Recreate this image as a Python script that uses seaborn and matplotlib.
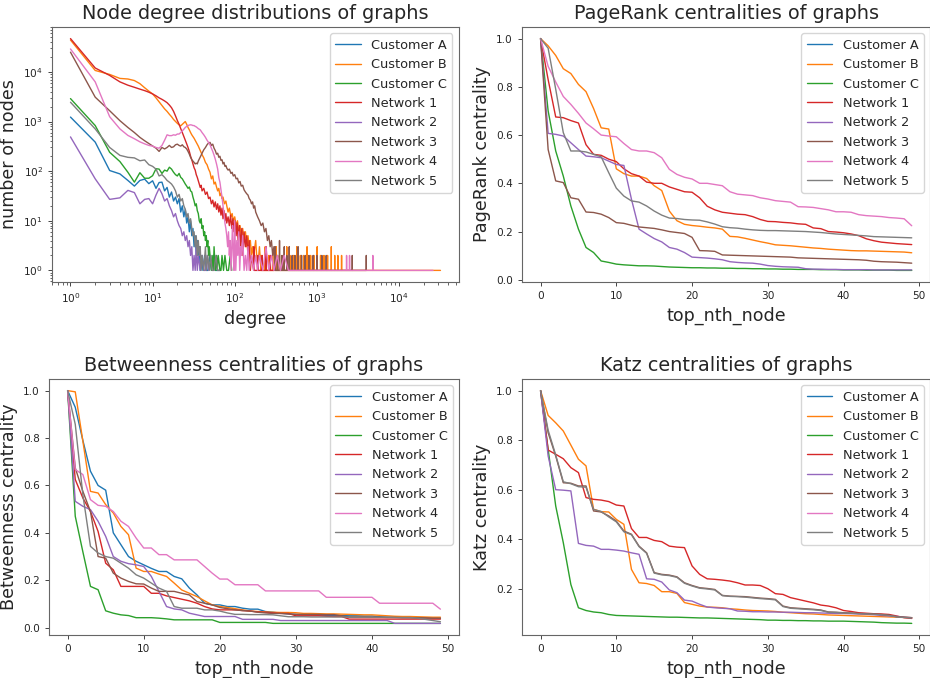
import numpy as np
import pandas as pd
import matplotlib
matplotlib.use("Agg")
import matplotlib.pyplot as plt
import seaborn as sns

# graph names (legend order)
names = ["Customer A", "Customer B", "Customer C", "Network 1",
         "Network 2", "Network 3", "Network 4", "Network 5"]

#! NODE DEGREE DISTRIBUTIONS (degree -> number of nodes)
deg_cust_a = [1, 2, 3, 4, 5, 6, 7, 8, 9, 10, 11, 12, 13, 14, 15, 16, 17, 18, 19, 20, 21, 22, 23, 24, 25,
              26, 27, 28, 29, 30, 31, 32, 33, 34, 35, 36, 37, 38, 40, 41, 43, 45, 47, 50, 52, 55, 58, 62, 66]
cnt_cust_a = [1230, 385, 103, 88, 65, 50, 65, 69, 56, 64, 45, 59, 60, 40, 47, 30, 38, 25, 30, 22, 28, 15, 20, 12, 17,
              9, 12, 6, 10, 5, 7, 3, 5, 2, 4, 2, 3, 1, 2, 1, 2, 1, 1, 2, 1, 2, 1, 1, 1]

deg_cust_b = [1, 2, 3, 4, 5, 6, 7, 8, 9, 10, 11, 12, 13, 14, 15, 16, 17, 18, 19, 20, 21, 22, 23, 24, 25, 26, 27, 28, 29, 30,
              32, 34, 36, 38, 40, 42, 44, 46, 48, 50, 52, 54, 56, 58, 60, 62, 64, 66, 68, 70, 72, 75, 78, 80, 83, 86, 90,
              93, 96, 100, 104, 108, 112, 116, 120, 125, 130, 135, 140, 145, 150, 155, 160, 165, 170, 180, 190, 200,
              209, 210, 211, 234, 235, 236, 259, 260, 261, 289, 290, 291, 319, 320, 321, 349, 350, 351, 389, 390, 391,
              429, 430, 431, 469, 470, 471, 519, 520, 521, 569, 570, 571, 629, 630, 631, 689, 690, 691, 759, 760, 761,
              839, 840, 841, 919, 920, 921, 1009, 1010, 1011, 1109, 1110, 1111, 1219, 1220, 1221, 1349, 1350, 1351,
              1499, 1500, 1501, 1649, 1650, 1651, 1799, 1800, 1801, 1999, 2000, 2001, 32000]
cnt_cust_b = [44000, 10700, 8900, 7400, 7200, 6700, 5800, 4800, 4100, 3600, 3000, 2500, 2100, 1800, 1600, 1400, 1250,
              1100, 1000, 920, 860, 820, 880, 940, 1000, 880, 760, 680, 600, 540,
              460, 380, 320, 260, 215, 185, 150, 135, 110, 95, 70, 80, 55, 60, 48, 40, 45, 32, 36, 28, 30, 22, 25, 20,
              15, 18, 12, 14, 10, 12, 8, 10, 6, 8, 5, 7, 4, 6, 3, 5, 3, 4, 2, 3, 2, 4, 1, 3,
              1, 2, 1, 1, 3, 1, 1, 2, 1, 1, 2, 1, 1, 3, 1, 1, 2, 1, 1, 2, 1, 1, 3, 1, 1, 2, 1, 1, 2, 1, 1, 3, 1,
              1, 2, 1, 1, 2, 1, 1, 3, 1, 1, 2, 1, 1, 2, 1, 1, 3, 1, 1, 2, 1, 1, 2, 1, 1, 2, 1, 1, 3, 1, 1, 2, 1,
              1, 2, 1, 1, 2, 1, 1]

deg_cust_c = [1, 2, 3, 4, 5, 6, 7, 8, 9, 10, 11, 12, 13, 14, 15, 16, 17, 18, 19, 20, 21, 22, 23, 24, 25,
              26, 27, 28, 29, 30, 31, 32, 33, 34, 35, 36, 37, 38, 39, 40, 41, 42, 43, 44, 45, 46, 47, 48, 49, 50,
              52, 53, 55, 56, 58, 60, 61, 63, 66, 68, 70, 73, 76, 80, 84, 88, 92]
cnt_cust_c = [2900, 830, 240, 156, 95, 60, 93, 72, 72, 81, 112, 110, 90, 105, 100, 120, 110, 95, 85, 80, 90, 75, 70,
              62, 55, 50, 45, 48, 40, 38, 30, 25, 20, 22, 16, 14, 10, 9, 11, 7, 8, 5, 6, 4, 5, 3, 4, 2, 3, 2,
              1, 2, 1, 3, 1, 2, 1, 2, 1, 1, 2, 1, 2, 1, 1, 2, 1]

deg_net_1 = [1, 2, 3, 4, 5, 6, 7, 8, 9, 10, 11, 12, 13, 14, 15, 16, 17, 18, 19, 20, 21, 22, 23, 24, 25, 26, 27, 28,
             29, 30, 31, 32, 33, 34, 35, 36, 37, 38, 39, 40,
             42, 44, 46, 48, 50, 52, 54, 56, 58, 60, 62, 64, 66, 68, 70, 72, 74, 76, 78, 80, 83, 86, 89, 92, 95, 98,
             101, 104, 107, 110, 114, 118, 122, 126, 130, 135, 140, 145, 150, 155, 160,
             170, 171, 172, 190, 191, 192, 215, 216, 217, 240, 241, 242, 270, 271, 272, 300]
cnt_net_1 = [47000, 12000, 8500, 6300, 5400, 4900, 4500, 4200, 3900, 3600, 3300, 3000, 2800, 2600, 2400, 2150, 1900,
             1600, 1300, 1050, 880, 720, 600, 500, 420, 355, 300, 250, 200, 170, 140, 117, 105, 85, 75, 64, 55, 47,
             52, 40,
             45, 34, 38, 28, 30, 22, 26, 19, 24, 17, 22, 15, 20, 13, 18, 11, 16, 10, 14, 9, 12, 8, 13, 7, 11, 6,
             10, 5, 9, 4, 8, 3, 7, 2, 6, 3, 5, 2, 4, 1, 2,
             1, 3, 1, 1, 2, 1, 1, 2, 1, 1, 3, 1, 1, 2, 1, 1]

deg_net_2 = [1, 2, 3, 4, 5, 6, 7, 8, 9, 10, 11, 12, 13, 14, 15, 16, 17, 18, 19, 20, 21, 22, 23, 24, 25, 26, 27, 28,
             29, 30, 31, 32, 33, 34, 35, 36, 38, 40, 42, 44, 46, 48]
cnt_net_2 = [490, 70, 27, 29, 41, 37, 22, 27, 28, 22, 33, 45, 35, 25, 28, 20, 16, 12, 14, 10, 8, 7, 5, 6, 4, 5, 3,
             4, 2, 3, 1, 2, 1, 3, 1, 2, 1, 2, 1, 1, 2, 1]

deg_net_3 = [1, 2, 3, 4, 5, 6, 7, 8, 9, 10, 11, 12, 13, 14, 15, 16, 17, 18, 19, 20, 21, 22, 23, 24, 25, 26, 27, 28,
             29, 30, 31, 32, 33, 34, 35, 36, 37, 38, 39, 40,
             42, 44, 46, 48, 50, 52, 54, 56, 58, 60, 62, 64, 66, 68, 70, 72, 74, 76, 78, 80, 83, 86, 90, 93, 96, 100,
             104, 108, 112, 116, 120, 125, 130, 135, 140, 145, 150, 155, 160, 165, 170, 175, 180, 190, 200, 210, 220,
             230, 240, 250, 260, 270, 280, 290, 300,
             310, 311, 312, 330, 331, 332, 350, 351, 352, 375, 376, 377, 400, 401, 402, 430, 431, 432, 460, 461, 462,
             500, 501, 502, 540, 541, 542, 590, 591, 592, 650, 651, 652, 720, 721, 722, 800, 801, 802, 900, 901, 902,
             1000, 1001, 1002, 1150, 1151, 1152, 1300, 1301, 1302, 2700, 2701, 2702, 4000, 4001, 4002]
cnt_net_3 = [25000, 3100, 1650, 1040, 760, 600, 480, 410, 360, 320, 290, 250, 300, 280, 300, 330, 300, 310, 340, 350,
             330, 320, 340, 310, 300, 280, 250, 220, 190, 170, 160, 150, 140, 145, 140, 160, 175, 190, 210, 230,
             270, 300, 340, 370, 380, 330, 350, 290, 260, 220, 230, 190, 200, 165, 170, 140, 150, 125, 130, 115,
             105, 110, 90, 95, 80, 85, 70, 72, 58, 62, 50, 52, 42, 38, 35, 33, 28, 26, 22, 24, 18, 20, 15, 12,
             10, 8, 9, 6, 7, 4, 5, 3, 4, 2, 3,
             1, 3, 1, 1, 2, 1, 1, 4, 1, 1, 2, 1, 1, 3, 1, 1, 2, 1, 1, 3, 1, 1, 2, 1, 1, 2, 1, 1, 3, 1, 1, 2, 1,
             1, 2, 1, 1, 2, 1, 1, 2, 1, 1, 2, 1, 1, 2, 1, 1, 2, 1, 1, 2, 1, 1, 2, 1]

deg_net_4 = [1, 2, 3, 4, 5, 6, 7, 8, 9, 10, 11, 12, 13, 14, 15, 16, 17, 18, 19, 20, 21, 22, 23, 24, 25, 26, 27, 28,
             29, 30, 31, 32, 33, 34, 35, 36, 37, 38, 39, 40,
             42, 44, 46, 48, 50, 52, 54, 56, 58, 60, 62, 64, 66, 68, 70, 72, 74, 76, 78, 80, 82, 84, 86, 88, 90, 92,
             94, 96, 98, 100, 103, 106, 109, 112, 115, 118, 121, 125, 130, 135, 140, 145, 150, 160, 170, 180, 190,
             200, 220, 240, 260, 280, 300, 330, 360, 400, 450,
             2300, 2301, 2302, 2500, 2501, 2502, 4800, 4801, 4802, 26000]
cnt_net_4 = [29000, 6300, 1250, 710, 525, 450, 390, 355, 330, 320, 300, 290, 330, 420, 540, 520, 520, 540, 530, 560,
             560, 600, 650, 700, 760, 800, 830, 850, 860, 850, 830, 830, 800, 780, 750, 720, 700, 680, 640, 600,
             540, 480, 420, 380, 340, 290, 250, 210, 174, 140, 110, 74, 60, 42, 30, 20, 14, 9, 7, 5,
             3, 6, 2, 4, 1, 3, 8, 2, 1, 10, 1, 4, 2, 6, 1, 3, 2, 5, 1, 2,
             1, 3, 1, 2, 1, 2, 1, 2, 1, 3, 1, 2, 1, 2, 1, 2, 1,
             1, 2, 1, 1, 2, 1, 1, 2, 1, 1]

deg_net_5 = [1, 2, 3, 4, 5, 6, 7, 8, 9, 10, 11, 12, 13, 14, 15, 16, 17, 18, 19, 20, 21, 22, 23, 24, 25, 26, 27, 28,
             29, 30, 31, 32, 33, 34, 35, 36, 37, 38, 39, 40, 42, 44, 45, 47, 49, 51, 53, 56, 59, 62, 65]
cnt_net_5 = [2450, 710, 300, 208, 190, 185, 162, 168, 135, 125, 110, 80, 85, 75, 65, 60, 55, 48, 40, 30,
             34, 25, 28, 20, 17, 12, 14, 9, 11, 7, 5, 6, 3, 5, 2, 4, 2, 3, 1, 2, 1, 3, 1, 2, 1, 2, 1, 1, 2, 1, 1]

degree_data = {
    "Customer A": (deg_cust_a, cnt_cust_a), "Customer B": (deg_cust_b, cnt_cust_b),
    "Customer C": (deg_cust_c, cnt_cust_c), "Network 1": (deg_net_1, cnt_net_1),
    "Network 2": (deg_net_2, cnt_net_2), "Network 3": (deg_net_3, cnt_net_3),
    "Network 4": (deg_net_4, cnt_net_4), "Network 5": (deg_net_5, cnt_net_5),
}

#! CENTRALITIES OF THE TOP 50 NODES (normalised). None = line not visible in the chart
top_nth_node = list(range(50))

pr_cust_a = None
pr_cust_b = [1.0, 0.97, 0.93, 0.875, 0.855, 0.81, 0.78, 0.71, 0.63, 0.625, 0.46, 0.44, 0.43, 0.43, 0.42, 0.39, 0.37,
             0.285, 0.245, 0.23, 0.225, 0.222, 0.218, 0.215, 0.21, 0.18, 0.178, 0.172, 0.165, 0.158, 0.152, 0.145,
             0.143, 0.141, 0.138, 0.135, 0.132, 0.13, 0.127, 0.125, 0.123, 0.121, 0.12, 0.12, 0.119, 0.118, 0.117,
             0.116, 0.115, 0.112]
pr_cust_c = [1.0, 0.70, 0.534, 0.43, 0.306, 0.21, 0.134, 0.113, 0.078, 0.072, 0.065, 0.062, 0.06, 0.058, 0.058,
             0.057, 0.055, 0.053, 0.052, 0.051, 0.05, 0.05, 0.049, 0.049, 0.048, 0.048, 0.047, 0.047, 0.046, 0.046,
             0.045, 0.045, 0.044, 0.044, 0.043, 0.043, 0.043, 0.042, 0.042, 0.042, 0.041, 0.041, 0.041, 0.04, 0.04,
             0.04, 0.04, 0.039, 0.039, 0.039]
pr_net_1 = [1.0, 0.83, 0.675, 0.672, 0.66, 0.65, 0.56, 0.52, 0.516, 0.50, 0.49, 0.46, 0.44, 0.43, 0.405, 0.40, 0.40,
            0.385, 0.375, 0.365, 0.363, 0.34, 0.305, 0.29, 0.28, 0.276, 0.272, 0.27, 0.262, 0.25, 0.242, 0.241,
            0.238, 0.236, 0.232, 0.23, 0.215, 0.212, 0.2, 0.198, 0.195, 0.19, 0.183, 0.17, 0.162, 0.156, 0.153,
            0.15, 0.148, 0.146]
pr_net_2 = [1.0, 0.607, 0.603, 0.596, 0.568, 0.54, 0.513, 0.51, 0.506, 0.492, 0.478, 0.474, 0.334, 0.21, 0.19,
            0.171, 0.157, 0.134, 0.127, 0.113, 0.094, 0.092, 0.09, 0.087, 0.083, 0.075, 0.072, 0.07, 0.069, 0.065,
            0.059, 0.056, 0.054, 0.053, 0.052, 0.046, 0.044, 0.044, 0.043, 0.043, 0.042, 0.042, 0.042, 0.042, 0.041,
            0.041, 0.041, 0.041, 0.041, 0.041]
pr_net_3 = [1.0, 0.54, 0.41, 0.403, 0.34, 0.334, 0.281, 0.279, 0.272, 0.258, 0.237, 0.234, 0.226, 0.219, 0.216,
            0.213, 0.207, 0.2, 0.196, 0.192, 0.176, 0.121, 0.12, 0.118, 0.103, 0.102, 0.101, 0.1, 0.099, 0.098,
            0.097, 0.096, 0.095, 0.094, 0.091, 0.09, 0.089, 0.088, 0.087, 0.086, 0.085, 0.084, 0.083, 0.081, 0.077,
            0.075, 0.074, 0.073, 0.071, 0.069]
pr_net_4 = [1.0, 0.885, 0.82, 0.76, 0.727, 0.69, 0.65, 0.626, 0.60, 0.596, 0.593, 0.565, 0.54, 0.534, 0.534, 0.527,
            0.506, 0.458, 0.437, 0.425, 0.418, 0.40, 0.40, 0.395, 0.39, 0.365, 0.355, 0.352, 0.349, 0.34, 0.335,
            0.328, 0.325, 0.322, 0.303, 0.302, 0.3, 0.295, 0.29, 0.282, 0.282, 0.28, 0.27, 0.266, 0.264, 0.262,
            0.258, 0.256, 0.253, 0.224]
pr_net_5 = [1.0, 0.96, 0.79, 0.61, 0.534, 0.534, 0.53, 0.52, 0.51, 0.444, 0.38, 0.347, 0.327, 0.322, 0.306, 0.285,
            0.268, 0.256, 0.254, 0.25, 0.248, 0.247, 0.24, 0.231, 0.22, 0.216, 0.214, 0.21, 0.207, 0.205, 0.204,
            0.204, 0.203, 0.202, 0.201, 0.2, 0.198, 0.196, 0.193, 0.19, 0.188, 0.186, 0.184, 0.182, 0.179, 0.178,
            0.177, 0.176, 0.175, 0.174]

bc_cust_a = [1.0, 0.93, 0.79, 0.66, 0.60, 0.58, 0.40, 0.35, 0.30, 0.28, 0.265, 0.25, 0.237, 0.237, 0.216, 0.206,
             0.167, 0.138, 0.103, 0.096, 0.096, 0.089, 0.089, 0.082, 0.078, 0.078, 0.068, 0.065, 0.061, 0.058, 0.056,
             0.055, 0.054, 0.053, 0.052, 0.052, 0.051, 0.05, 0.05, 0.049, 0.049, 0.046, 0.044, 0.044, 0.043, 0.043,
             0.042, 0.042, 0.041, 0.04]
bc_cust_b = [1.0, 0.995, 0.787, 0.575, 0.568, 0.519, 0.484, 0.427, 0.392, 0.251, 0.237, 0.237, 0.226, 0.216, 0.188,
             0.159, 0.145, 0.131, 0.113, 0.096, 0.089, 0.085, 0.08, 0.075, 0.07, 0.068, 0.066, 0.065, 0.064, 0.064,
             0.063, 0.06, 0.06, 0.059, 0.058, 0.058, 0.057, 0.056, 0.055, 0.054, 0.054, 0.052, 0.05, 0.048, 0.047,
             0.047, 0.046, 0.045, 0.044, 0.044]
bc_cust_c = [1.0, 0.47, 0.32, 0.174, 0.16, 0.071, 0.061, 0.054, 0.051, 0.042, 0.042, 0.042, 0.04, 0.037, 0.033,
             0.033, 0.033, 0.033, 0.033, 0.033, 0.022, 0.022, 0.022, 0.022, 0.022, 0.022, 0.022, 0.018, 0.018, 0.018,
             0.018, 0.018, 0.018, 0.018, 0.018, 0.018, 0.018, 0.018, 0.018, 0.018, 0.018, 0.018, 0.018, 0.018, 0.018,
             0.018, 0.018, 0.018, 0.018, 0.018]
bc_net_1 = [1.0, 0.625, 0.547, 0.49, 0.406, 0.272, 0.244, 0.174, 0.174, 0.174, 0.174, 0.145, 0.145, 0.134, 0.127,
            0.12, 0.113, 0.103, 0.089, 0.079, 0.075, 0.075, 0.075, 0.072, 0.07, 0.066, 0.065, 0.062, 0.06, 0.06,
            0.05, 0.05, 0.05, 0.05, 0.048, 0.047, 0.047, 0.036, 0.036, 0.036, 0.036, 0.036, 0.036, 0.036, 0.036,
            0.036, 0.036, 0.036, 0.036, 0.036]
bc_net_2 = [1.0, 0.533, 0.512, 0.498, 0.449, 0.385, 0.30, 0.28, 0.27, 0.265, 0.258, 0.216, 0.153, 0.089, 0.079,
            0.075, 0.061, 0.054, 0.047, 0.047, 0.047, 0.047, 0.047, 0.035, 0.035, 0.035, 0.035, 0.035, 0.03, 0.03,
            0.03, 0.03, 0.03, 0.03, 0.03, 0.03, 0.03, 0.03, 0.03, 0.03, 0.03, 0.03, 0.03, 0.018, 0.018, 0.018,
            0.018, 0.018, 0.018, 0.018]
bc_net_3 = [1.0, 0.674, 0.575, 0.49, 0.30, 0.293, 0.23, 0.209, 0.195, 0.185, 0.184, 0.167, 0.153, 0.153, 0.153,
            0.145, 0.138, 0.11, 0.103, 0.096, 0.085, 0.08, 0.075, 0.072, 0.07, 0.065, 0.062, 0.06, 0.06, 0.058,
            0.056, 0.056, 0.056, 0.056, 0.055, 0.055, 0.05, 0.045, 0.045, 0.045, 0.044, 0.044, 0.043, 0.043, 0.042,
            0.042, 0.041, 0.041, 0.04, 0.04]
bc_net_4 = [1.0, 0.667, 0.646, 0.54, 0.516, 0.512, 0.49, 0.449, 0.427, 0.378, 0.336, 0.336, 0.308, 0.308, 0.286,
            0.286, 0.286, 0.286, 0.258, 0.23, 0.205, 0.205, 0.181, 0.181, 0.181, 0.181, 0.155, 0.155, 0.155, 0.155,
            0.155, 0.155, 0.155, 0.155, 0.128, 0.128, 0.128, 0.128, 0.128, 0.128, 0.128, 0.103, 0.103, 0.103, 0.103,
            0.103, 0.103, 0.103, 0.103, 0.078]
bc_net_5 = [1.0, 0.858, 0.56, 0.343, 0.315, 0.30, 0.293, 0.272, 0.251, 0.223, 0.209, 0.188, 0.167, 0.153, 0.089,
            0.082, 0.082, 0.082, 0.075, 0.075, 0.07, 0.062, 0.056, 0.056, 0.055, 0.055, 0.055, 0.054, 0.05, 0.046,
            0.046, 0.046, 0.045, 0.045, 0.045, 0.045, 0.045, 0.044, 0.044, 0.044, 0.044, 0.044, 0.044, 0.043, 0.043,
            0.043, 0.04, 0.035, 0.03, 0.025]

kz_cust_a = None
kz_cust_b = [1.0, 0.90, 0.87, 0.837, 0.78, 0.723, 0.696, 0.521, 0.511, 0.51, 0.48, 0.46, 0.278, 0.224, 0.221, 0.213,
             0.188, 0.188, 0.181, 0.144, 0.137, 0.13, 0.126, 0.125, 0.123, 0.119, 0.117, 0.114, 0.112, 0.111, 0.11,
             0.108, 0.105, 0.103, 0.101, 0.099, 0.098, 0.096, 0.094, 0.093, 0.092, 0.091, 0.09, 0.089, 0.088, 0.087,
             0.086, 0.085, 0.084, 0.083]
kz_cust_c = [1.0, 0.763, 0.534, 0.386, 0.217, 0.123, 0.112, 0.106, 0.103, 0.096, 0.092, 0.091, 0.09, 0.089, 0.088,
             0.087, 0.086, 0.085, 0.085, 0.084, 0.083, 0.082, 0.082, 0.081, 0.08, 0.079, 0.078, 0.077, 0.076, 0.075,
             0.073, 0.073, 0.072, 0.072, 0.071, 0.071, 0.07, 0.07, 0.069, 0.069, 0.069, 0.068, 0.067, 0.066, 0.065,
             0.063, 0.062, 0.061, 0.061, 0.06]
kz_net_1 = [1.0, 0.76, 0.743, 0.725, 0.689, 0.669, 0.568, 0.561, 0.558, 0.552, 0.538, 0.534, 0.443, 0.407, 0.407,
            0.395, 0.39, 0.372, 0.368, 0.366, 0.292, 0.258, 0.24, 0.238, 0.235, 0.231, 0.224, 0.215, 0.215, 0.213,
            0.2, 0.18, 0.177, 0.164, 0.157, 0.15, 0.143, 0.134, 0.13, 0.123, 0.112, 0.108, 0.103, 0.101, 0.099,
            0.098, 0.096, 0.09, 0.083, 0.08]
kz_net_2 = [1.0, 0.736, 0.60, 0.598, 0.595, 0.383, 0.375, 0.372, 0.359, 0.359, 0.356, 0.352, 0.345, 0.339, 0.24,
            0.238, 0.227, 0.195, 0.184, 0.154, 0.15, 0.137, 0.126, 0.123, 0.121, 0.119, 0.11, 0.109, 0.107, 0.107,
            0.106, 0.106, 0.105, 0.105, 0.104, 0.103, 0.103, 0.102, 0.101, 0.1, 0.1, 0.099, 0.098, 0.097, 0.095,
            0.092, 0.09, 0.088, 0.085, 0.083]
kz_net_3 = [1.0, 0.83, 0.736, 0.628, 0.626, 0.615, 0.615, 0.514, 0.51, 0.494, 0.473, 0.433, 0.42, 0.372, 0.345,
            0.265, 0.258, 0.255, 0.248, 0.224, 0.213, 0.204, 0.201, 0.197, 0.173, 0.17, 0.169, 0.168, 0.165, 0.162,
            0.16, 0.157, 0.13, 0.123, 0.121, 0.119, 0.117, 0.114, 0.106, 0.105, 0.103, 0.102, 0.1, 0.099, 0.098,
            0.096, 0.093, 0.087, 0.085, 0.083]
kz_net_4 = None
kz_net_5 = [1.0, 0.84, 0.74, 0.632, 0.624, 0.612, 0.61, 0.52, 0.512, 0.49, 0.47, 0.43, 0.418, 0.37, 0.343, 0.263,
            0.256, 0.253, 0.246, 0.222, 0.211, 0.202, 0.199, 0.195, 0.172, 0.169, 0.168, 0.166, 0.163, 0.16, 0.158,
            0.155, 0.128, 0.121, 0.119, 0.117, 0.115, 0.112, 0.105, 0.104, 0.102, 0.101, 0.099, 0.098, 0.097, 0.095,
            0.092, 0.086, 0.084, 0.082]

pagerank = dict(zip(names, [pr_cust_a, pr_cust_b, pr_cust_c, pr_net_1, pr_net_2, pr_net_3, pr_net_4, pr_net_5]))
betweenness = dict(zip(names, [bc_cust_a, bc_cust_b, bc_cust_c, bc_net_1, bc_net_2, bc_net_3, bc_net_4, bc_net_5]))
katz = dict(zip(names, [kz_cust_a, kz_cust_b, kz_cust_c, kz_net_1, kz_net_2, kz_net_3, kz_net_4, kz_net_5]))


def to_long(series, xname, yname):
    rows = []
    for name, (xs, ys) in series.items():
        if ys is None:
            continue
        rows.append(pd.DataFrame({xname: xs, yname: ys, "graph": name}))
    return pd.concat(rows, ignore_index=True)


sns.set_style("ticks")
plt.rcParams.update({"axes.edgecolor": "0.4", "axes.linewidth": 0.8,
                     "xtick.labelsize": 7.6, "ytick.labelsize": 7.6,
                     "xtick.major.size": 3, "ytick.major.size": 3,
                     "xtick.minor.size": 1.8, "ytick.minor.size": 1.8,
                     "xtick.major.width": 0.6, "ytick.major.width": 0.6,
                     "xtick.minor.width": 0.5, "ytick.minor.width": 0.5})
palette = sns.color_palette("tab10", 8)
title_fs, label_fs, legend_fs = 13.9, 12.6, 9.3

fig = plt.figure(figsize=(9.3, 6.78), dpi=100)
ax_deg = fig.add_axes([0.0559, 0.5841, 0.4376, 0.3761])
ax_pr = fig.add_axes([0.5613, 0.5841, 0.4390, 0.3761])
ax_bc = fig.add_axes([0.0527, 0.0634, 0.4409, 0.3776])
ax_kz = fig.add_axes([0.5613, 0.0634, 0.4390, 0.3776])

# degree distribution (log-log)
df_deg = to_long(degree_data, "degree", "number of nodes")
sns.lineplot(data=df_deg, x="degree", y="number of nodes", hue="graph", hue_order=names,
             palette=palette, estimator=None, sort=False, linewidth=1.0, ax=ax_deg)
ax_deg.set(xscale="log", yscale="log")
ax_deg.set_title("Node degree distributions of graphs", fontsize=title_fs)
ax_deg.set_xlabel("degree", fontsize=label_fs)
ax_deg.set_ylabel("number of nodes", fontsize=label_fs)

panels = [(ax_pr, pagerank, "PageRank centralities of graphs", "PageRank centrality"),
          (ax_bc, betweenness, "Betweenness centralities of graphs", "Betweenness centrality"),
          (ax_kz, katz, "Katz centralities of graphs", "Katz centrality")]
for ax, data, title, ylabel in panels:
    df = to_long({k: (top_nth_node, v) for k, v in data.items()}, "top_nth_node", ylabel)
    sns.lineplot(data=df, x="top_nth_node", y=ylabel, hue="graph", hue_order=names,
                 palette=palette, estimator=None, linewidth=1.0, ax=ax)
    ax.set_title(title, fontsize=title_fs)
    ax.set_xlabel("top_nth_node", fontsize=label_fs)
    ax.set_ylabel(ylabel, fontsize=label_fs)

for ax in [ax_deg, ax_pr, ax_bc, ax_kz]:
    sns.move_legend(ax, "upper right", title=None, fontsize=legend_fs)

fig.savefig("out.png", dpi=100)
